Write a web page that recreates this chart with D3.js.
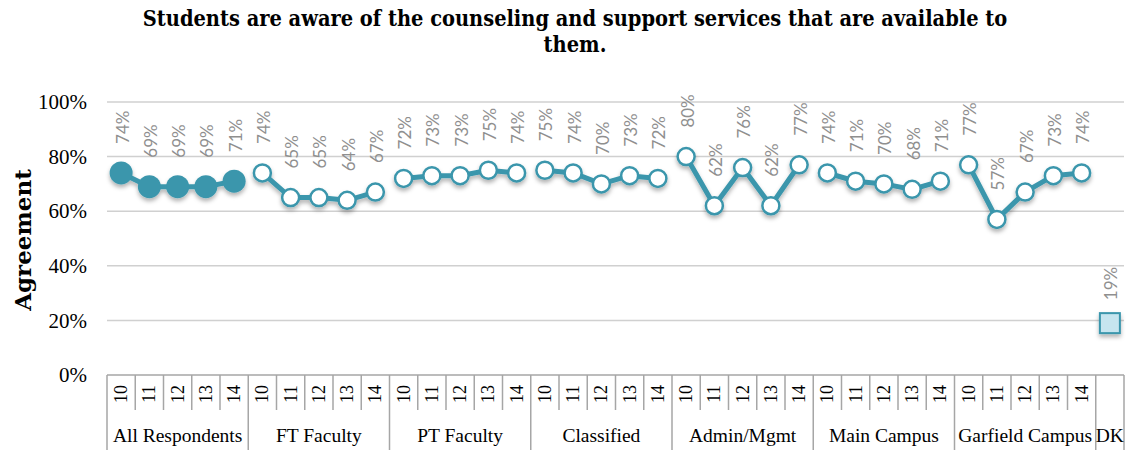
<!DOCTYPE html>
<html>
<head>
<meta charset="utf-8">
<script src="https://cdn.jsdelivr.net/npm/d3@7"></script>
<style>
  html, body { margin: 0; padding: 0; background: #fff; }
  svg { display: block; }
</style>
</head>
<body>
<svg id="chart" width="1134" height="450"></svg>
<script>
// Survey groups and the years asked within each
const groups = ["All Respondents", "FT Faculty", "PT Faculty", "Classified", "Admin/Mgmt", "Main Campus", "Garfield Campus"];
const years = ["10", "11", "12", "13", "14"];

// Agreement (%) per group, one value per year
const allRespondents = [74, 69, 69, 69, 71];
const ftFaculty = [74, 65, 65, 64, 67];
const ptFaculty = [72, 73, 73, 75, 74];
const classified = [75, 74, 70, 73, 72];
const adminMgmt = [80, 62, 76, 62, 77];
const mainCampus = [74, 71, 70, 68, 71];
const garfieldCampus = [77, 57, 67, 73, 74];
const dkLabel = "DK";
const dkValue = 19;

const yTicks = [0, 20, 40, 60, 80, 100];

const seriesValues = [allRespondents, ftFaculty, ptFaculty, classified, adminMgmt, mainCampus, garfieldCampus];

const teal = "#3a96ac";
const serif = "'Liberation Serif', 'DejaVu Serif', serif";
const svg = d3.select("#chart");

const margin = { left: 107, right: 10, top: 102, plotBottom: 375 };
const width = 1134;

// Category keys: one per group/year, plus the DK column
const keys = [];
groups.forEach((g, gi) => years.forEach(y => keys.push(gi + "|" + y)));
keys.push("DK");

const x = d3.scaleBand().domain(keys).range([margin.left, width - margin.right]).padding(0);
const y = d3.scaleLinear().domain([0, 100]).range([margin.plotBottom, margin.top]);

// Shadow under markers and lines
const defs = svg.append("defs");
const f = defs.append("filter").attr("id", "shadow").attr("x", "-20%").attr("y", "-20%").attr("width", "140%").attr("height", "160%");
f.append("feDropShadow").attr("dx", 0).attr("dy", 3).attr("stdDeviation", 2).attr("flood-color", "#000").attr("flood-opacity", 0.3);

// Title
const title = svg.append("text")
  .attr("text-anchor", "middle")
  .attr("font-family", "'DejaVu Serif Condensed', 'DejaVu Serif', serif")
  .attr("font-weight", "bold")
  .attr("font-size", 21.6)
  .attr("fill", "#000");
title.append("tspan").attr("x", 575).attr("y", 26).text("Students are aware of the counseling and support services that are available to");
title.append("tspan").attr("x", 575).attr("y", 52).text("them.");

// Gridlines
svg.append("g").selectAll("line")
  .data(yTicks.filter(t => t > 0))
  .join("line")
  .attr("x1", margin.left).attr("x2", width - margin.right)
  .attr("y1", d => y(d)).attr("y2", d => y(d))
  .attr("stroke", "#d0d0d0").attr("stroke-width", 1.5);

// Y axis labels
const yAxis = d3.axisLeft(y).tickValues(yTicks).tickFormat(d => d + "%").tickSize(0).tickPadding(20);
const yG = svg.append("g").attr("transform", `translate(${margin.left},0)`).call(yAxis);
yG.select(".domain").remove();
yG.selectAll("text")
  .attr("font-family", serif)
  .attr("font-size", 21)
  .attr("fill", "#000");

// Y axis title
svg.append("text")
  .attr("transform", "translate(31,240) rotate(-90)")
  .attr("text-anchor", "middle")
  .attr("font-family", "'DejaVu Serif', serif")
  .attr("font-weight", "bold")
  .attr("font-size", 23)
  .attr("fill", "#000")
  .text("Agreement");

// Category axis box
const axisG = svg.append("g");
const axisStroke = "#a6a6a6";
const boxBottom = 450;
const yearLineBottom = 410;
axisG.append("line")
  .attr("x1", margin.left).attr("x2", width - margin.right)
  .attr("y1", margin.plotBottom).attr("y2", margin.plotBottom)
  .attr("stroke", axisStroke).attr("stroke-width", 1.5);

// Boundaries between categories
const bounds = keys.map(k => x(k)).concat([x(keys[keys.length - 1]) + x.bandwidth()]);
axisG.selectAll("line.sep")
  .data(bounds)
  .join("line")
  .attr("class", "sep")
  .attr("x1", d => d).attr("x2", d => d)
  .attr("y1", margin.plotBottom)
  .attr("y2", (d, i) => (i % 5 === 0 || i >= 35) ? boxBottom : yearLineBottom)
  .attr("stroke", axisStroke).attr("stroke-width", 1.5);

// Year labels
axisG.selectAll("text.year")
  .data(keys.filter(k => k !== "DK"))
  .join("text")
  .attr("class", "year")
  .attr("transform", d => `translate(${x(d) + x.bandwidth() / 2},394) rotate(-90)`)
  .attr("text-anchor", "middle")
  .attr("dominant-baseline", "central")
  .attr("font-family", serif)
  .attr("font-size", 18)
  .attr("fill", "#000")
  .text(d => d.split("|")[1]);

// Group labels
axisG.selectAll("text.group")
  .data(groups)
  .join("text")
  .attr("class", "group")
  .attr("x", (g, gi) => x(gi + "|" + years[0]) + x.bandwidth() * years.length / 2)
  .attr("y", 442)
  .attr("text-anchor", "middle")
  .attr("font-family", serif)
  .attr("font-size", 19.5)
  .attr("fill", "#000")
  .text(d => d);
axisG.append("text")
  .attr("x", x("DK") + x.bandwidth() / 2)
  .attr("y", 442)
  .attr("text-anchor", "middle")
  .attr("font-family", serif)
  .attr("font-size", 19.5)
  .attr("fill", "#000")
  .text(dkLabel);

// Lines and markers, one series per group
const line = d3.line().x(d => x(d.key) + x.bandwidth() / 2).y(d => y(d.value));
const plotG = svg.append("g").attr("filter", "url(#shadow)");
seriesValues.forEach((vals, gi) => {
  const pts = vals.map((v, i) => ({ key: gi + "|" + years[i], value: v }));
  const filled = gi === 0;
  plotG.append("path")
    .datum(pts)
    .attr("d", line)
    .attr("fill", "none")
    .attr("stroke", teal)
    .attr("stroke-width", 5);
  plotG.selectAll(null)
    .data(pts)
    .join("circle")
    .attr("cx", d => x(d.key) + x.bandwidth() / 2)
    .attr("cy", d => y(d.value))
    .attr("r", filled ? 11.5 : 8.5)
    .attr("fill", filled ? teal : "#fff")
    .attr("stroke", teal)
    .attr("stroke-width", filled ? 0 : 2.5);
});

// DK square
const sq = 20;
plotG.append("rect")
  .attr("x", x("DK") + x.bandwidth() / 2 - sq / 2)
  .attr("y", y(dkValue) - sq / 2)
  .attr("width", sq).attr("height", sq)
  .attr("fill", "#c6e5ef")
  .attr("stroke", teal).attr("stroke-width", 2);

// Value labels, rotated above each point
const labelData = [];
seriesValues.forEach((vals, gi) => vals.forEach((v, i) => labelData.push({ key: gi + "|" + years[i], value: v })));
labelData.push({ key: "DK", value: dkValue });
svg.append("g").selectAll("text")
  .data(labelData)
  .join("text")
  .attr("transform", d => `translate(${x(d.key) + x.bandwidth() / 2 + 1},${y(d.value) - (d.key === "DK" ? 23 : 29)}) rotate(-90)`)
  .attr("text-anchor", "start")
  .attr("dominant-baseline", "central")
  .attr("font-family", "Lato, 'Open Sans', sans-serif")
  .attr("font-size", 17)
  .attr("fill", "#8f8f8f")
  .text(d => d.value + "%");
</script>
</body>
</html>
